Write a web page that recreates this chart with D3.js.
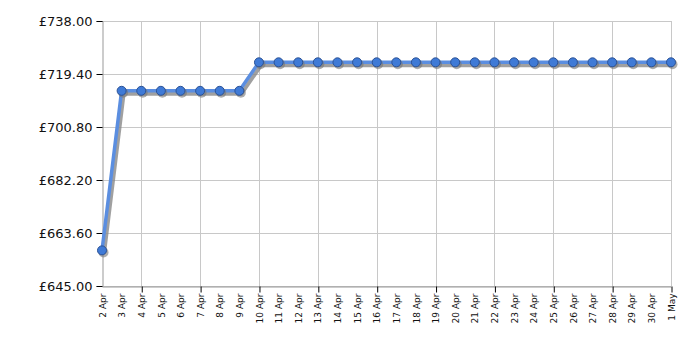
<!DOCTYPE html>
<html>
<head>
<meta charset="utf-8">
<script src="https://cdn.jsdelivr.net/npm/d3@7"></script>
<style>
  body { margin: 0; background: #fff; }
  svg { display: block; font-family: "DejaVu Sans", Verdana, sans-serif; }
</style>
</head>
<body>
<svg id="chart" width="700" height="350"></svg>
<script>
// data
const days = ["2 Apr", "3 Apr", "4 Apr", "5 Apr", "6 Apr", "7 Apr", "8 Apr", "9 Apr", "10 Apr",
  "11 Apr", "12 Apr", "13 Apr", "14 Apr", "15 Apr", "16 Apr", "17 Apr", "18 Apr", "19 Apr",
  "20 Apr", "21 Apr", "22 Apr", "23 Apr", "24 Apr", "25 Apr", "26 Apr", "27 Apr", "28 Apr",
  "29 Apr", "30 Apr", "1 May"];
const prices = [657.5, 713.5, 713.5, 713.5, 713.5, 713.5, 713.5, 713.5, 723.5,
  723.5, 723.5, 723.5, 723.5, 723.5, 723.5, 723.5, 723.5, 723.5,
  723.5, 723.5, 723.5, 723.5, 723.5, 723.5, 723.5, 723.5, 723.5,
  723.5, 723.5, 723.5];
const yTicks = [645, 663.6, 682.2, 700.8, 719.4, 738];
const gridDays = ["4 Apr", "7 Apr", "10 Apr", "13 Apr", "16 Apr", "19 Apr", "22 Apr", "25 Apr", "28 Apr", "1 May"];

const svg = d3.select("#chart");
const plot = { left: 102, right: 671, top: 21, bottom: 286 };

const x = d3.scalePoint().domain(days).range([plot.left, plot.right]);
const y = d3.scaleLinear().domain([645, 738]).range([plot.bottom, plot.top]);
const snap = (v) => Math.round(v) + 0.5;

// grid
svg.append("g")
  .selectAll("line")
  .data(yTicks)
  .join("line")
  .attr("x1", plot.left).attr("x2", plot.right)
  .attr("y1", (d) => snap(y(d)))
  .attr("y2", (d) => snap(y(d)))
  .attr("stroke", "#c8c8c8");

svg.append("g")
  .selectAll("line")
  .data(gridDays)
  .join("line")
  .attr("x1", (d) => snap(x(d)))
  .attr("x2", (d) => snap(x(d)))
  .attr("y1", plot.top).attr("y2", plot.bottom)
  .attr("stroke", "#c8c8c8");

// axes
const yAxis = svg.append("g")
  .attr("transform", `translate(${snap(plot.left)},0)`)
  .call(d3.axisLeft(y).tickValues(yTicks).tickSize(6).tickPadding(4)
    .tickFormat((d) => "£" + d3.format(".2f")(d)));
yAxis.select(".domain").attr("stroke", "#999");
yAxis.selectAll(".tick line").attr("stroke", "#000");
yAxis.selectAll(".tick").attr("transform", (d) => `translate(0,${snap(y(d))})`);
yAxis.selectAll("text").attr("font-size", 13).attr("fill", "#111")
  .attr("font-family", "DejaVu Sans, Verdana, sans-serif");

const xAxis = svg.append("g")
  .attr("transform", `translate(0,${snap(plot.bottom)})`)
  .call(d3.axisBottom(x).tickSize(0).tickPadding(0));
xAxis.select(".domain").attr("stroke", "#999");
xAxis.selectAll(".tick text")
  .attr("font-size", 9)
  .attr("fill", "#111")
  .attr("font-family", "DejaVu Sans, Verdana, sans-serif")
  .attr("transform", "rotate(-90)")
  .attr("text-anchor", "end")
  .attr("x", -7)
  .attr("y", 0)
  .attr("dy", "0.35em");
xAxis.selectAll(".tick")
  .filter((d) => gridDays.includes(d))
  .append("line")
  .attr("x1", 0.5).attr("x2", 0.5)
  .attr("y1", 0).attr("y2", 6)
  .attr("stroke", "#000");

// line with shadow
const line = d3.line().x((d, i) => x(days[i])).y((d) => y(d));

svg.append("path")
  .datum(prices)
  .attr("fill", "none")
  .attr("stroke", "#888")
  .attr("stroke-opacity", 0.8)
  .attr("stroke-width", 4)
  .attr("transform", "translate(2,3)")
  .attr("d", line);

svg.append("path")
  .datum(prices)
  .attr("fill", "none")
  .attr("stroke", "#5b8ee0")
  .attr("stroke-width", 3.5)
  .attr("d", line);

// markers
svg.append("g")
  .selectAll("circle")
  .data(prices)
  .join("circle")
  .attr("cx", (d, i) => x(days[i]) + 1.5)
  .attr("cy", (d) => y(d) + 2)
  .attr("r", 5)
  .attr("fill", "#777")
  .attr("fill-opacity", 0.6);

svg.append("g")
  .selectAll("circle")
  .data(prices)
  .join("circle")
  .attr("cx", (d, i) => x(days[i]))
  .attr("cy", (d) => y(d))
  .attr("r", 4.5)
  .attr("fill", "#3f7ad6")
  .attr("stroke", "#2b5296")
  .attr("stroke-width", 1);
</script>
</body>
</html>
